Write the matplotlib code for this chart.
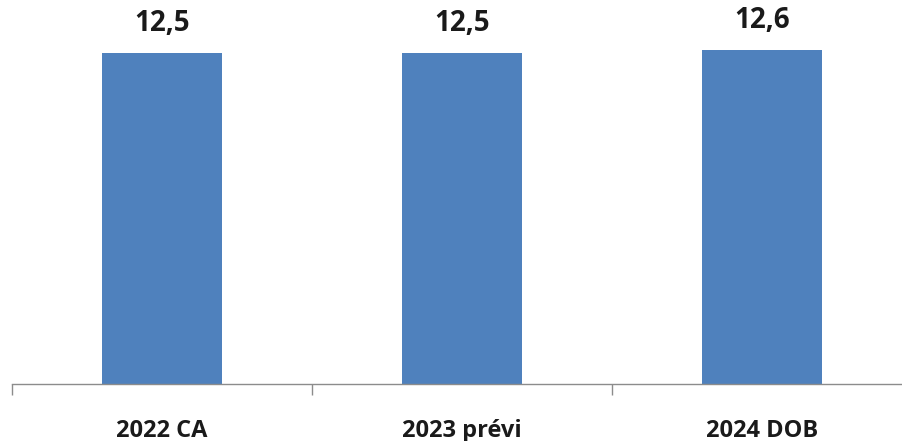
import matplotlib
matplotlib.use("Agg")
import matplotlib.pyplot as plt
from matplotlib.ticker import FixedLocator, NullFormatter

categories = ["2022 CA", "2023 prévi", "2024 DOB"]
values = [12.5, 12.5, 12.6]
value_labels = ["12,5", "12,5", "12,6"]

plt.rcParams['font.family'] = ['Open Sans', 'DejaVu Sans']
plt.rcParams['font.stretch'] = 'normal'

fig = plt.figure(figsize=(9.03, 4.41), dpi=100)
ax = fig.add_axes([12/903, 57/441, 900/903, 384/441])

x = list(range(len(categories)))
bars = ax.bar(x, values, width=0.4, color="#4F81BD", zorder=2)

ax.set_xlim(-0.5, 2.5)
ax.set_ylim(0, 14.5)

for rect, lab in zip(bars, value_labels):
    ax.annotate(lab, (rect.get_x() + rect.get_width()/2, rect.get_height()),
                xytext=(0, 11), textcoords="offset points",
                ha="center", va="bottom", fontsize=20, fontweight="bold",
                fontstretch="normal", color="#1a1a1a")

for spine in ["top", "right", "left"]:
    ax.spines[spine].set_visible(False)
ax.spines["bottom"].set_color("#8c8c8c")
ax.spines["bottom"].set_linewidth(1.0)

ax.yaxis.set_visible(False)
ax.xaxis.set_major_locator(FixedLocator([-0.5, 0.5, 1.5, 2.5]))
ax.xaxis.set_major_formatter(NullFormatter())
ax.xaxis.set_minor_locator(FixedLocator(x))
ax.set_xticklabels(categories, minor=True)
ax.tick_params(axis="x", which="major", length=8, color="#8c8c8c", width=1.0, direction="out")
ax.tick_params(axis="x", which="minor", length=0, pad=25, labelsize=17)
for t in ax.get_xticklabels(minor=True):
    t.set_fontweight("bold")
    t.set_fontstretch("normal")
    t.set_color("#1a1a1a")

fig.savefig("out.png", dpi=100)
